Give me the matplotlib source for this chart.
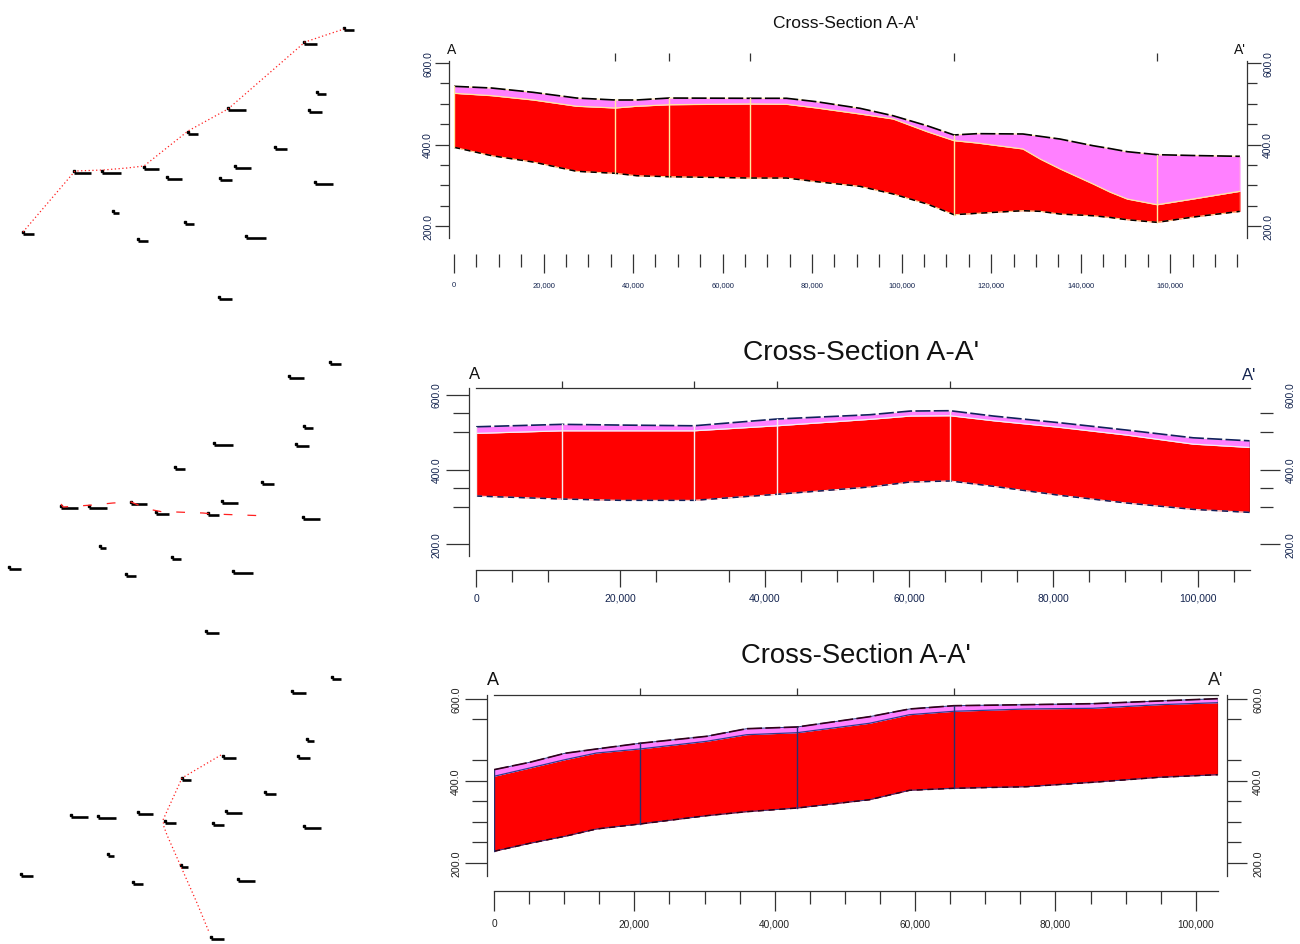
import matplotlib
matplotlib.use("Agg")
import matplotlib.pyplot as plt

plt.rcParams["font.family"] = ["Liberation Sans", "DejaVu Sans"]

W, H = 1300, 945
TITLE = "Cross-Section A-A'"

# ---- section 1 ----
s1_dist = [0, 8400, 17700, 27400, 36000, 40800, 48000, 66100, 74300, 81000, 90700, 98100,
           105700, 111700, 116900, 127100, 131000, 135400, 142800, 146600, 150400, 157100, 165100, 175600]
s1_top = [542.8, 538.6, 528, 514, 509.2, 509.2, 514, 513.4, 513.4, 505, 488.8, 470.6,
          446, 423.4, 426.6, 425.8, 420, 413.4, 397, 390, 382.4, 375, 373, 371]
s1_mid = [525.6, 519.8, 509.2, 493.8, 489.6, 493.8, 497.6, 499.4, 498.6, 489.6, 474.8, 462.6,
          431.4, 409.4, 403.6, 389, 364, 340, 303, 283, 266.2, 252.2, 266.2, 285.2]
s1_bot = [393.2, 372.6, 357, 334.2, 329.4, 323.4, 321, 317.8, 317.8, 308.8, 297.4, 278.6,
          254, 227.8, 231.2, 237.6, 236, 229.4, 225.2, 221, 215.4, 209, 222, 236]
s1_bores = [36000, 48000, 66100, 111700, 157100]
s1_major = [0, 20000, 40000, 60000, 80000, 100000, 120000, 140000, 160000]
s1_hidden = [100000, 120000, 140000, 160000]
s1_minor = [5000, 10000, 15000, 25000, 30000, 35000, 45000, 50000, 55000, 65000, 70000, 75000,
            85000, 90000, 95000, 105000, 110000, 115000, 125000, 130000, 135000, 145000,
            150000, 155000, 165000, 170000, 175000]
s1_ymajor = [200, 400, 600]
s1_yminor = [250, 300, 350, 450, 500, 550]

# ---- section 2 ----
s2_dist = [0, 11900, 20000, 30200, 41700, 54600, 60200, 65700, 71700, 80900, 90200, 99400, 107200]
s2_top = [514, 520.5, 518.6, 516.7, 534.7, 546.2, 556, 556.9, 542.7, 524.8, 505.2, 484.6, 476.6]
s2_mid = [496.4, 503.3, 503.3, 503.3, 516.7, 533.9, 542.7, 543.5, 530.1, 512.4, 491.8, 467.7, 458.9]
s2_bot = [329.3, 321.3, 317.8, 317.8, 333.9, 353.4, 366.8, 369.5, 355.3, 331.2, 310.6, 293.7, 285.7]
s2_bores = [11900, 30200, 41700, 65700]
s2_major = [0, 20000, 40000, 60000, 80000, 100000]
s2_hidden = [80000]
s2_minor = [5000, 10000, 25000, 35000, 45000, 50000, 55000, 65000, 70000, 75000, 85000, 90000,
            95000, 105000]
s2_ymajor = [200, 400, 600]
s2_yhidden = [600]
s2_yminor = [300, 350, 500, 550]

# ---- section 3 ----
s3_dist = [0, 5100, 10100, 14600, 20800, 30300, 36000, 43200, 53500, 59200, 65500, 75900,
           85300, 94800, 103100]
s3_top = [426.8, 444.8, 466.7, 477.2, 491.1, 508.1, 526.6, 530.8, 555.8, 574.6, 582.6, 585.1,
          587.5, 594.1, 599.7]
s3_mid = [410.7, 430.9, 451.1, 467.4, 477.2, 495.9, 512, 516.9, 539.8, 560.7, 569, 574.6,
          576.3, 585.1, 589.9]
s3_bot = [228.1, 247.6, 264.6, 282.4, 294.6, 314.8, 324.5, 333.5, 353.7, 376.6, 381.5, 385.4,
          396.1, 408.3, 414.6]
s3_bores = [20800, 43200, 65500]
s3_major = [0, 20000, 40000, 60000, 80000, 100000]
s3_minor = [5000, 10000, 15000, 25000, 30000, 35000, 45000, 50000, 55000, 65000, 70000, 75000,
            85000, 90000, 95000]
s3_ymajor = [200, 400, 600]
s3_yminor = [250, 300, 350, 450, 550]

# ---- well maps: label start, label end, y, in map pixels ----
m1_x0 = [344, 304, 317, 309, 228, 188, 275, 235, 220, 315, 144, 167, 74, 102, 113, 185, 138, 23, 246, 219]
m1_x1 = [354, 317, 326, 322, 246, 198, 287, 251, 232, 333, 159, 182, 91, 121, 119, 194, 148, 34, 266, 232]
m1_y = [31, 45, 95, 113, 111, 135, 150, 169, 181, 185, 170, 180, 174, 174, 214, 225, 242, 235, 239, 300]
m1_rx = [23, 75, 103, 127, 144, 188, 228, 305, 344]
m1_ry = [233, 172, 171, 169, 167, 132, 110, 43, 30]

m2_x0 = [330, 289, 304, 296, 214, 175, 262, 222, 208, 303, 131, 156, 61, 89, 100, 172, 126, 9, 233, 206]
m2_x1 = [341, 304, 313, 309, 233, 185, 274, 238, 219, 320, 147, 169, 78, 107, 106, 181, 136, 21, 253, 219]
m2_y = [365, 379, 429, 447, 446, 470, 485, 504, 516, 520, 505, 515, 509, 509, 549, 560, 577, 570, 574, 634]
m2_rx = [61, 63, 93, 113, 131, 148, 163, 176, 203, 213, 270]
m2_ry = [505, 508, 506, 504, 503, 510, 513, 513, 514, 515, 517]

m3_x0 = [332, 292, 307, 298, 223, 182, 265, 226, 213, 304, 138, 165, 71, 98, 108, 181, 133, 21, 238, 211]
m3_x1 = [341, 306, 314, 310, 236, 191, 276, 242, 224, 321, 153, 176, 88, 116, 114, 188, 143, 33, 255, 224]
m3_y = [680, 694, 742, 759, 759, 781, 795, 814, 826, 829, 815, 824, 818, 819, 857, 868, 885, 877, 882, 940]
m3_rx = [221, 182, 163, 164, 167, 182, 197, 209]
m3_ry = [756, 779, 821, 828, 836, 870, 904, 933]


def px_axes(fig, left, right, top, bottom):
    return fig.add_axes([left / W, 1 - bottom / H, (right - left) / W, (bottom - top) / H])


def put(fig, s, px, py, **kw):
    fig.text(px / W, 1 - py / H, s, ha=kw.pop("ha", "center"), va=kw.pop("va", "center"), **kw)


def pt(px):
    return px * 0.72


def nearest(dist, vals, d):
    return min(zip(dist, vals), key=lambda p: abs(p[0] - d))[1]


def section(fig, box, xlim, ylim, dist, top, mid, bot, bores, xmajor, xminor, ymajor, yminor,
            xhidden=(), yhidden=(), lc="black", ec="#ffe9a0", bc="#ffe9a0", rc=None, tc="#14244f",
            xfs=7, yfs=7, left_out=5, right_out=6, bottom_out=16,
            bottom_spine=False, top_spine=False, right_spine=True, ylen=(14, 9), rlen=(14, 10),
            xlen=(19, 13), toplen=8, xpad=3, ylab_px=(428, 1268)):
    ax = px_axes(fig, *box)
    ax.set_xlim(*xlim)
    ax.set_ylim(*ylim)
    ax.patch.set_alpha(0)
    ax.fill_between(dist, bot, mid, color="#ff0000", lw=0, zorder=2)
    ax.fill_between(dist, mid, top, color="#ff80ff", lw=0, zorder=2)
    ax.plot(dist, mid, color=ec, lw=0.9, zorder=3)
    ax.plot(dist, top, color=ec, lw=0.7, zorder=3)
    ax.plot(dist, top, color=lc, lw=1.2, dashes=(9, 2), zorder=4)
    ax.plot(dist, bot, color=ec, lw=0.7, zorder=3)
    ax.plot(dist, bot, color=lc, lw=1.1, dashes=(4, 3), zorder=4)
    for b in bores:
        ax.plot([b, b], [nearest(dist, bot, b), nearest(dist, top, b)], color=bc, lw=1.0, zorder=5)
    ax.plot([dist[0], dist[0]], [bot[0], top[0]], color=bc, lw=1.0, zorder=5)
    ax.plot([dist[-1], dist[-1]], [bot[-1], top[-1]], color=rc or bc, lw=1.0, zorder=5)

    for k in ("top", "right"):
        ax.spines[k].set_visible(False)
    ax.spines["left"].set_position(("outward", pt(left_out)))
    ax.spines["bottom"].set_position(("outward", pt(bottom_out)))
    ax.spines["bottom"].set_visible(bottom_spine)
    for k in ("left", "bottom"):
        ax.spines[k].set_linewidth(0.9)
        ax.spines[k].set_color("#333333")
    ax.set_xticks(xmajor)
    ax.set_xticklabels([f"{v:,}" for v in xmajor], fontsize=xfs, color=tc)
    ax.set_xticks(xminor, minor=True)
    ax.set_yticks(ymajor)
    ax.set_yticklabels([])
    ax.set_yticks(yminor, minor=True)
    ax.tick_params(axis="x", which="major", length=pt(xlen[0]), width=0.9, color="#333333", pad=xpad)
    ax.tick_params(axis="x", which="minor", length=pt(xlen[1]), width=0.9, color="#333333")
    ax.tick_params(axis="y", which="major", length=pt(ylen[0]), width=0.9, color="#333333")
    ax.tick_params(axis="y", which="minor", length=pt(ylen[1]), width=0.9, color="#333333")
    for t in ax.xaxis.get_major_ticks():
        if t.get_loc() in xhidden:
            t.tick1line.set_visible(False)
    for t in ax.yaxis.get_major_ticks():
        if t.get_loc() in yhidden:
            t.tick1line.set_visible(False)

    rx = ax.twinx()
    rx.set_ylim(*ylim)
    rx.patch.set_alpha(0)
    for k in ("top", "left", "bottom"):
        rx.spines[k].set_visible(False)
    rx.spines["right"].set_position(("outward", pt(right_out)))
    rx.spines["right"].set_visible(right_spine)
    rx.spines["right"].set_linewidth(0.9)
    rx.spines["right"].set_color("#333333")
    rx.set_yticks(ymajor)
    rx.set_yticklabels([])
    rx.set_yticks(yminor, minor=True)
    rx.tick_params(axis="y", which="major", length=pt(rlen[0]), width=0.9, color="#333333")
    rx.tick_params(axis="y", which="minor", length=pt(rlen[1]), width=0.9, color="#333333")
    for t in rx.yaxis.get_major_ticks():
        if t.get_loc() in yhidden:
            t.tick2line.set_visible(False)

    tx = ax.twiny()
    tx.set_xlim(*xlim)
    tx.patch.set_alpha(0)
    for k in ("left", "right", "bottom"):
        tx.spines[k].set_visible(False)
    tx.spines["top"].set_visible(top_spine)
    tx.spines["top"].set_linewidth(0.9)
    tx.spines["top"].set_color("#333333")
    tx.set_xticks(bores)
    tx.set_xticklabels([])
    tx.tick_params(axis="x", length=pt(toplen), width=0.9, color="#333333")

    # y value labels, rotated, at fixed pixel columns
    ph = box[3] - box[2]
    for v in ymajor:
        py = box[3] - (v - ylim[0]) / (ylim[1] - ylim[0]) * ph
        for col in ylab_px:
            put(fig, f"{v:.1f}", col, py, rotation=90, fontsize=yfs, color=tc)
    return ax


def well_map(fig, x0, x1, y, rx, ry, dash):
    ax = px_axes(fig, 0, 400, 0, H)
    ax.set_xlim(0, 400)
    ax.set_ylim(H, 0)
    ax.axis("off")
    ax.patch.set_alpha(0)
    ax.hlines(y, x0, x1, color="black", lw=1.9, zorder=2)
    ax.plot(x0, [v - 2 for v in y], ls="none", marker="s", ms=1.6, color="black", zorder=2)
    ax.plot(rx, ry, color="#ff2020", lw=0.9, dashes=dash, zorder=3)


fig = plt.figure(figsize=(13, 9.45), dpi=100, facecolor="white")

well_map(fig, m1_x0, m1_x1, m1_y, m1_rx, m1_ry, (1, 2))
well_map(fig, m2_x0, m2_x1, m2_y, m2_rx, m2_ry, (7, 12))
well_map(fig, m3_x0, m3_x1, m3_y, m3_rx, m3_ry, (1, 2))

# panel 1
section(fig, (454, 1240, 62, 239), (0, 175600), (170.6, 604.9), s1_dist, s1_top, s1_mid, s1_bot,
        s1_bores, s1_major, s1_minor, s1_ymajor, s1_yminor, xhidden=s1_hidden,
        xfs=5.5, yfs=7.5, left_out=5, right_out=7, bottom_out=16, xpad=6,
        ylab_px=(428, 1268))
put(fig, TITLE, 846, 23, fontsize=12.5, color="#111111")
put(fig, "A", 452, 50, fontsize=10, color="#111111")
put(fig, "A'", 1240, 50, fontsize=10, color="#111111")

# panel 2
section(fig, (476, 1249.5, 389, 556.7), (0, 107200), (170.1, 617.5), s2_dist, s2_top, s2_mid, s2_bot,
        s2_bores, s2_major, s2_minor, s2_ymajor, s2_yminor, xhidden=s2_hidden, yhidden=s2_yhidden,
        lc="#10205c", ec="#f4f0f0", bc="#f4f0f0", rc="#222222", xfs=7.5, yfs=7.4, left_out=7, right_out=10,
        bottom_out=14.3, bottom_spine=True, top_spine=True, right_spine=False,
        ylen=(23, 16), rlen=(20, 13), xlen=(17, 12), toplen=7, xpad=4, ylab_px=(437, 1291))
put(fig, TITLE, 861, 353, fontsize=20.3, color="#111111")
put(fig, "A", 475, 375, fontsize=12, color="#111111")
put(fig, "A'", 1249, 376, fontsize=12, color="#14244f")

# panel 3
section(fig, (494, 1218.3, 695.7, 877.3), (0, 103200), (167.2, 609.4), s3_dist, s3_top, s3_mid, s3_bot,
        s3_bores, s3_major, s3_minor, s3_ymajor, s3_yminor,
        lc="#300018", ec="#2a3f8f", bc="#25306e", rc="#222222", tc="#222222", xfs=7.3, yfs=7.7, left_out=6.7,
        right_out=8.7, bottom_out=15, bottom_spine=True, top_spine=True, right_spine=True,
        ylen=(22, 15), rlen=(20, 14), xlen=(20, 13), toplen=7, xpad=5, ylab_px=(456, 1258))
put(fig, TITLE, 856, 656, fontsize=19.8, color="#111111")
put(fig, "A", 493, 681, fontsize=13, color="#111111")
put(fig, "A'", 1216, 681, fontsize=13, color="#222222")

fig.savefig("out.png", dpi=100)
